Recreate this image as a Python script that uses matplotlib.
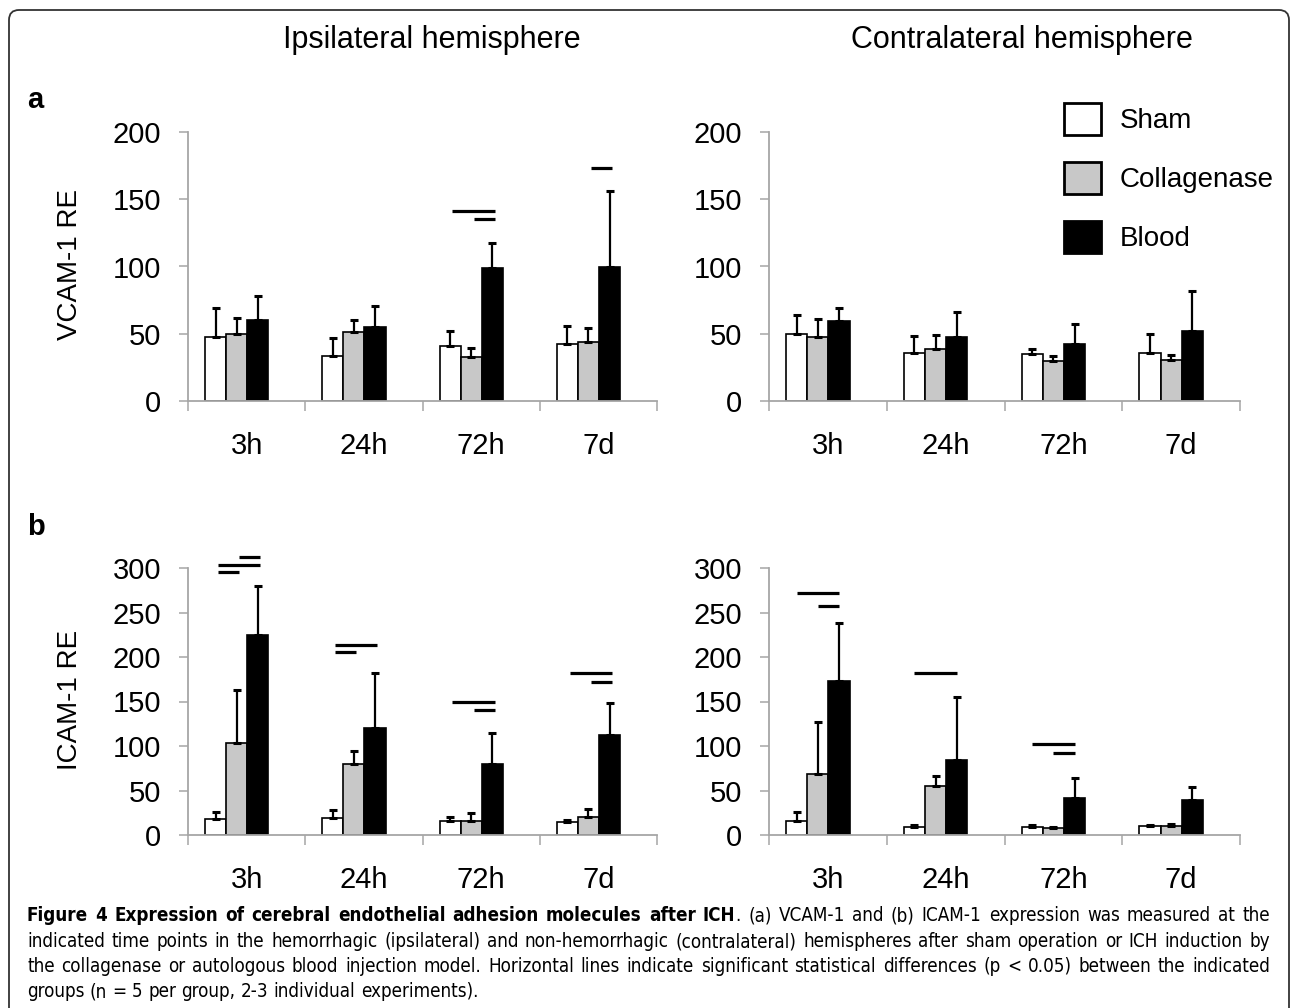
import matplotlib
matplotlib.use("Agg")
import matplotlib.pyplot as plt
import numpy as np
from matplotlib.patches import FancyBboxPatch
from matplotlib.transforms import IdentityTransform
from matplotlib import font_manager as fm

# ---------------- data ----------------
timepoints = ["3h", "24h", "72h", "7d"]
groups = ["Sham", "Collagenase", "Blood"]

# VCAM-1, ipsilateral
vcam_ipsi_sham = [47.6, 33.2, 41.1, 42.6]
vcam_ipsi_coll = [49.9, 51.1, 32.9, 44.1]
vcam_ipsi_blood = [59.9, 54.9, 99.0, 99.8]
vcam_ipsi_sham_err = [21.2, 13.4, 11.3, 13.3]
vcam_ipsi_coll_err = [11.9, 9.2, 6.8, 10.5]
vcam_ipsi_blood_err = [18.4, 15.7, 18.7, 56.6]

# VCAM-1, contralateral
vcam_contra_sham = [49.9, 35.7, 34.9, 35.7]
vcam_contra_coll = [47.6, 38.9, 29.7, 30.2]
vcam_contra_blood = [59.4, 47.6, 42.4, 51.9]
vcam_contra_sham_err = [13.9, 12.4, 3.5, 13.9]
vcam_contra_coll_err = [13.7, 10.0, 3.5, 3.7]
vcam_contra_blood_err = [9.4, 18.2, 14.5, 30.1]

# ICAM-1, ipsilateral
icam_ipsi_sham = [17.9, 19.1, 16.1, 14.6]
icam_ipsi_coll = [103.8, 79.6, 15.3, 20.5]
icam_ipsi_blood = [225.2, 120.3, 80.3, 112.4]
icam_ipsi_sham_err = [7.9, 8.5, 3.7, 2.2]
icam_ipsi_coll_err = [58.7, 15.3, 9.4, 9.0]
icam_ipsi_blood_err = [54.6, 61.6, 34.0, 35.5]

# ICAM-1, contralateral
icam_contra_sham = [16.1, 9.0, 9.0, 10.1]
icam_contra_coll = [69.1, 55.3, 8.2, 9.7]
icam_contra_blood = [172.6, 84.0, 41.5, 39.6]
icam_contra_sham_err = [9.7, 2.2, 1.8, 1.5]
icam_contra_coll_err = [57.5, 10.8, 1.1, 3.0]
icam_contra_blood_err = [66.1, 71.0, 22.0, 14.2]

# significance lines: (timepoint index, group from, group to, height)
sig_vcam_ipsi = [(2, 0, 2, 141), (2, 1, 2, 135), (3, 1, 2, 173)]
sig_vcam_contra = []
sig_icam_ipsi = [(0, 0, 1, 295), (0, 0, 2, 303), (0, 1, 2, 312),
                 (1, 0, 2, 214), (1, 0, 1, 206),
                 (2, 0, 2, 149), (2, 1, 2, 140),
                 (3, 0, 2, 182), (3, 1, 2, 172)]
sig_icam_contra = [(0, 0, 2, 272), (0, 1, 2, 257), (1, 0, 2, 182),
                   (2, 0, 2, 102), (2, 1, 2, 92)]

titles = ["Ipsilateral hemisphere", "Contralateral hemisphere"]
ylabels = ["VCAM-1 RE", "ICAM-1 RE"]
panel_letters = ["a", "b"]
yticks_a = [0, 50, 100, 150, 200]
yticks_b = [0, 50, 100, 150, 200, 250, 300]

caption_lines = [
    [("Figure 4 Expression of cerebral endothelial adhesion molecules after ICH", "bold"),
     (". (a) VCAM-1 and (b) ICAM-1 expression was measured at the", "normal")],
    [("indicated time points in the hemorrhagic (ipsilateral) and non-hemorrhagic (contralateral) "
      "hemispheres after sham operation or ICH induction by", "normal")],
    [("the collagenase or autologous blood injection model. Horizontal lines indicate significant "
      "statistical differences (p < 0.05) between the indicated", "normal")],
    [("groups (n = 5 per group, 2-3 individual experiments).", "normal")],
]

# ---------------- style ----------------
plt.rcParams['font.family'] = ['Liberation Sans', 'DejaVu Sans']
W, H = 1290, 1008
fig = plt.figure(figsize=(W / 100, H / 100), dpi=100)
fig.patch.set_facecolor("white")


def fx(px):
    return px / W


def fy(py):
    return 1 - py / H


AX_COLOR = "#a6a6a6"
FACE = ["white", "#c8c8c8", "black"]
BAR_W = 0.18
SHIFT = -0.085
offsets = [SHIFT - BAR_W, SHIFT, SHIFT + BAR_W]

panels = [
    ((188, 657, 132, 401),
     [vcam_ipsi_sham, vcam_ipsi_coll, vcam_ipsi_blood],
     [vcam_ipsi_sham_err, vcam_ipsi_coll_err, vcam_ipsi_blood_err],
     sig_vcam_ipsi, yticks_a, 0.02),
    ((769, 1240, 132, 401),
     [vcam_contra_sham, vcam_contra_coll, vcam_contra_blood],
     [vcam_contra_sham_err, vcam_contra_coll_err, vcam_contra_blood_err],
     sig_vcam_contra, yticks_a, 0.0),
    ((188, 657, 568, 835),
     [icam_ipsi_sham, icam_ipsi_coll, icam_ipsi_blood],
     [icam_ipsi_sham_err, icam_ipsi_coll_err, icam_ipsi_blood_err],
     sig_icam_ipsi, yticks_b, 0.02),
    ((769, 1240, 568, 835),
     [icam_contra_sham, icam_contra_coll, icam_contra_blood],
     [icam_contra_sham_err, icam_contra_coll_err, icam_contra_blood_err],
     sig_icam_contra, yticks_b, 0.0),
]

x = np.arange(len(timepoints))
legend_handles = None
for (l, r, t, b), vals, errs, sig, yt, lshift in panels:
    ax = fig.add_axes([fx(l), fy(b), (r - l) / W, (b - t) / H])
    handles = []
    for k in range(3):
        bc = ax.bar(x + offsets[k], vals[k], width=BAR_W, color=FACE[k],
                    edgecolor="black", linewidth=1.2, zorder=2, label=groups[k])
        handles.append(bc)
        ax.errorbar(x + offsets[k], vals[k], yerr=[np.zeros(4), errs[k]],
                    fmt="none", ecolor="black", elinewidth=1.6, capsize=3.2,
                    capthick=2.2, zorder=3)
    if legend_handles is None:
        legend_handles = handles
    for (g, i, j, yv) in sig:
        ax.plot([g + offsets[i] + lshift, g + offsets[j] + lshift], [yv, yv],
                color="black", lw=2.3, solid_capstyle="butt", clip_on=False, zorder=4)
    ax.set_xlim(-0.5, 3.5)
    ax.set_ylim(yt[0], yt[-1])
    ax.set_yticks(yt)
    ax.set_xticks(x)
    ax.set_xticklabels(timepoints)
    ax.set_xticks(np.arange(-0.5, 4.0, 1.0), minor=True)
    for s in ["top", "right"]:
        ax.spines[s].set_visible(False)
    for s in ["left", "bottom"]:
        ax.spines[s].set_color(AX_COLOR)
        ax.spines[s].set_linewidth(1.3)
    ax.tick_params(axis="y", which="major", direction="out", length=6.5, width=1.1,
                   color=AX_COLOR, labelsize=21, pad=13)
    ax.tick_params(axis="x", which="major", length=0, labelsize=21, pad=22)
    ax.tick_params(axis="x", which="minor", direction="out", length=7.2, width=1.1,
                   color=AX_COLOR)
    ax.set_facecolor("none")

# titles
fig.text(fx(432), fy(40), titles[0], fontsize=22, ha="center", va="center")
fig.text(fx(1022), fy(40), titles[1], fontsize=22, ha="center", va="center")
# y labels
fig.text(fx(70), fy(264), ylabels[0], fontsize=20, rotation=90, ha="center", va="center")
fig.text(fx(70), fy(700), ylabels[1], fontsize=20, rotation=90, ha="center", va="center")
# panel letters
fig.text(fx(27), fy(100), panel_letters[0], fontsize=21, fontweight="bold", ha="left", va="center")
fig.text(fx(27), fy(527), panel_letters[1], fontsize=21, fontweight="bold", ha="left", va="center")

# legend
leg = fig.legend(handles=legend_handles, labels=groups, loc="upper left",
                 bbox_to_anchor=(fx(1064), fy(103)), frameon=False, fontsize=20,
                 handlelength=1.33, handleheight=1.4, handletextpad=0.68,
                 labelspacing=0.97, borderpad=0, borderaxespad=0)
for p in leg.get_patches():
    p.set_linewidth(2.0)

# border
border = FancyBboxPatch((9, -20), 1280, H - 10 + 20,
                        boxstyle="round,pad=0,rounding_size=10",
                        transform=IdentityTransform(), facecolor="none",
                        edgecolor="#333333", linewidth=1.3, zorder=10)
fig.patches.append(border)

# caption (justified)
names = {f.name for f in fm.fontManager.ttflist}
if "Liberation Sans Narrow" in names:
    cap_family = ["Liberation Sans Narrow", "DejaVu Sans"]
    cap_stretch = "normal"
else:
    cap_family = ["DejaVu Sans"]
    cap_stretch = "condensed"

renderer = fig.canvas.get_renderer()


def words_of(segs):
    words = []
    attach = False
    for text, wt in segs:
        parts = text.split(" ")
        for k, p in enumerate(parts):
            if p == "":
                continue
            if k == 0 and words and attach:
                words[-1].append((p, wt))
            else:
                words.append([(p, wt)])
        attach = not text.endswith(" ")
    return words


def measure(s, wt, size):
    t = fig.text(0, 0, s, fontsize=size, fontweight=wt, family=cap_family,
                 fontstretch=cap_stretch)
    w = t.get_window_extent(renderer).width
    t.remove()
    return w


X0, X1 = 27, 1270
probe = words_of(caption_lines[1])
base = 10.0
nat = sum(measure(s, wt, base) for w in probe for s, wt in w)
space_base = measure("a a", "normal", base) - measure("aa", "normal", base)
nat += space_base * (len(probe) - 1)
cap_size = min(14.0, base * (X1 - X0) * 0.985 / nat)

baselines = [921, 947, 972, 997]
for li, segs in enumerate(caption_lines):
    words = words_of(segs)
    wlist = []
    for w in words:
        ws = [measure(s, wt, cap_size) for s, wt in w]
        wlist.append(ws)
    total = sum(sum(ws) for ws in wlist)
    last = li == len(caption_lines) - 1
    if last or len(words) < 2:
        gap = space_base * cap_size / base
    else:
        gap = (X1 - X0 - total) / (len(words) - 1)
    xp = X0
    for w, ws in zip(words, wlist):
        for (s, wt), wd in zip(w, ws):
            fig.text(fx(xp), fy(baselines[li]), s, fontsize=cap_size, fontweight=wt,
                     family=cap_family, fontstretch=cap_stretch, ha="left", va="baseline")
            xp += wd
        xp += gap

fig.savefig("out.png", dpi=100)
